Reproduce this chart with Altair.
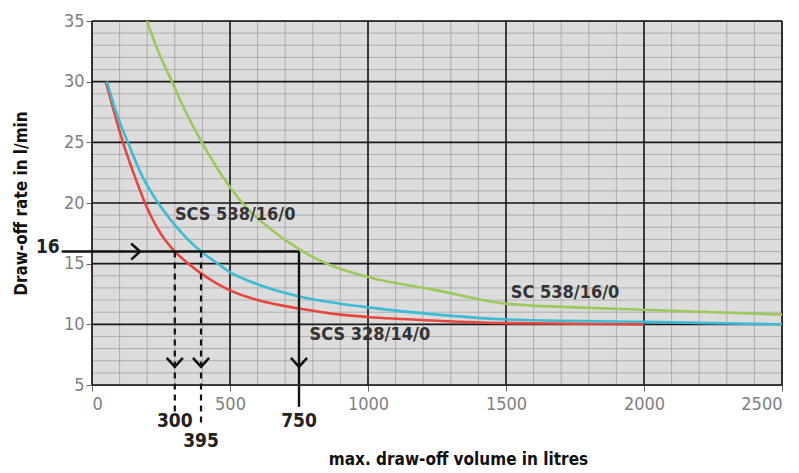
import altair as alt
import pandas as pd

# ---- data ----
red_x = [50, 80, 112, 150, 192, 240, 300, 350, 395, 450, 500, 600, 750, 900, 1000, 1250, 1500, 1750, 2000]
red_y = [30, 27.5, 25, 22.5, 20, 17.8, 16, 15, 14.2, 13.4, 12.8, 12.0, 11.3, 10.8, 10.6, 10.3, 10.1, 10.05, 10.0]

blue_x = [54, 90, 130, 180, 240, 300, 395, 450, 500, 600, 750, 900, 1000, 1250, 1500, 2000, 2500]
blue_y = [30, 27.3, 25, 22.3, 20, 18.2, 16, 15.1, 14.3, 13.3, 12.3, 11.7, 11.4, 10.8, 10.4, 10.2, 10.0]

green_x = [199, 240, 290, 340, 398, 450, 500, 561, 650, 750, 850, 1000, 1250, 1500, 1750, 2000, 2250, 2500]
green_y = [35, 32.5, 30, 27.5, 25, 23, 21.3, 19.6, 17.8, 16.2, 15.0, 13.9, 12.8, 11.7, 11.4, 11.2, 11.0, 10.8]

series_names = ["SCS 328/14/0", "SCS 538/16/0", "SC 538/16/0"]
series_colors = ["#e8453c", "#3cbcd4", "#9dc85c"]

label_text = ["SCS 538/16/0", "SCS 328/14/0", "SC 538/16/0"]
label_x = [519, 1007, 1714]
label_y = [19.0, 9.1, 12.6]

rate = 16
vol_small = [300, 395]
vol_big = 750
dashed_end = [2.4, 1.6]
solid_end = 3.2
line_start = -110
arrow_right_x = 174
arrow_down_y = 6.5

x_major = [0, 500, 1000, 1500, 2000, 2500]
y_major = [5, 10, 15, 20, 25, 30, 35]
x_minor = list(range(0, 2501, 100))
y_minor = list(range(5, 36, 1))

FONT = "DejaVu Sans Condensed, sans-serif"

xs = alt.Scale(domain=[0, 2500], nice=False, zero=False)
ys = alt.Scale(domain=[5, 35], nice=False, zero=False)

rows = []
for name, xv, yv in zip(series_names, [red_x, blue_x, green_x], [red_y, blue_y, green_y]):
    for a, b in zip(xv, yv):
        rows.append({"series": name, "x": a, "y": b})
curves = pd.DataFrame(rows)

minor_x_df = pd.DataFrame({"x": x_minor})
minor_y_df = pd.DataFrame({"y": y_minor})
major_x_df = pd.DataFrame({"x": x_major})
major_y_df = pd.DataFrame({"y": y_major})

base_axes = alt.Chart(curves).mark_line(opacity=0).encode(
    x=alt.X("x:Q", scale=xs, title="max. draw-off volume in litres",
            axis=alt.Axis(values=x_major, format="d", grid=False, domain=False, tickColor="#666", tickSize=6,
                          labelFont=FONT, labelFontSize=18, labelColor="#808080", labelPadding=4,
                          titleFont=FONT, titleFontSize=17, titleFontWeight="bold", titleColor="#111",
                          titlePadding=38, titleX=366)),
    y=alt.Y("y:Q", scale=ys, title="Draw-off rate in l/min",
            axis=alt.Axis(values=y_major, format="d", grid=False, domain=False, tickColor="#666", tickSize=6,
                          labelFont=FONT, labelFontSize=18, labelColor="#808080", labelPadding=2,
                          titleFont=FONT, titleFontSize=17, titleFontWeight="bold", titleColor="#111",
                          titlePadding=33)),
)

minor_v = alt.Chart(minor_x_df).mark_rule(color="#a2a2a2", strokeWidth=0.8).encode(x=alt.X("x:Q", scale=xs))
minor_h = alt.Chart(minor_y_df).mark_rule(color="#a2a2a2", strokeWidth=0.8).encode(y=alt.Y("y:Q", scale=ys))
major_v = alt.Chart(major_x_df).mark_rule(color="#1a1a1a", strokeWidth=1.6).encode(x=alt.X("x:Q", scale=xs))
major_h = alt.Chart(major_y_df).mark_rule(color="#1a1a1a", strokeWidth=1.6).encode(y=alt.Y("y:Q", scale=ys))

lines = alt.Chart(curves).mark_line(strokeWidth=2.6, interpolate="monotone").encode(
    x=alt.X("x:Q", scale=xs),
    y=alt.Y("y:Q", scale=ys),
    color=alt.Color("series:N", scale=alt.Scale(domain=series_names, range=series_colors), legend=None),
    order=alt.Order("x:Q"),
)

labels = alt.Chart(pd.DataFrame({"t": label_text, "x": label_x, "y": label_y})).mark_text(
    font=FONT, fontSize=18, fontWeight="bold", color="#333"
).encode(x=alt.X("x:Q", scale=xs), y=alt.Y("y:Q", scale=ys), text="t:N")

# solid guide lines
solid_df = pd.DataFrame({
    "x": [line_start, vol_big], "y": [rate, rate], "x2": [vol_big, vol_big], "y2": [rate, solid_end]
})
solid = alt.Chart(solid_df).mark_rule(color="#111", strokeWidth=2.4).encode(
    x=alt.X("x:Q", scale=xs), x2="x2:Q", y=alt.Y("y:Q", scale=ys), y2="y2:Q"
)
dashed_df = pd.DataFrame({"x": vol_small, "y": [rate, rate], "y2": dashed_end})
dashed = alt.Chart(dashed_df).mark_rule(color="#111", strokeWidth=2.2, strokeDash=[6, 5]).encode(
    x=alt.X("x:Q", scale=xs), y=alt.Y("y:Q", scale=ys), y2="y2:Q"
)

down_df = pd.DataFrame({"x": vol_small + [vol_big], "y": [arrow_down_y] * 3})
down_heads = alt.Chart(down_df).mark_point(
    shape="M-1,-1.1L0,0L1,-1.1", size=260, filled=False, color="#111", strokeWidth=2.6, opacity=1
).encode(x=alt.X("x:Q", scale=xs), y=alt.Y("y:Q", scale=ys))
right_df = pd.DataFrame({"x": [arrow_right_x], "y": [rate]})
right_head = alt.Chart(right_df).mark_point(
    shape="M-1.1,-1L0,0L-1.1,1", size=260, filled=False, color="#111", strokeWidth=2.6, opacity=1
).encode(x=alt.X("x:Q", scale=xs), y=alt.Y("y:Q", scale=ys))

# value labels
val_df = pd.DataFrame({
    "t": [str(rate), str(vol_small[0]), str(vol_small[1]), str(vol_big)],
    "x": [-117, vol_small[0], vol_small[1], vol_big],
    "y": [16.4, 2.0, 0.4, 2.0],
})
val_right = alt.Chart(val_df.iloc[:1]).mark_text(
    font=FONT, fontSize=19, fontWeight="bold", color="#222", align="right", baseline="middle"
).encode(x=alt.X("x:Q", scale=xs), y=alt.Y("y:Q", scale=ys), text="t:N")
val_center = alt.Chart(val_df.iloc[1:]).mark_text(
    font=FONT, fontSize=19, fontWeight="bold", color="#222", align="center", baseline="middle"
).encode(x=alt.X("x:Q", scale=xs), y=alt.Y("y:Q", scale=ys), text="t:N")

chart = alt.layer(
    base_axes, minor_v, minor_h, major_v, major_h, lines, labels,
    solid, dashed, down_heads, right_head, val_right, val_center
).properties(
    width=690, height=364,
    autosize=alt.AutoSizeParams(type="none"),
    padding={"left": 84, "top": 13, "right": 9, "bottom": 88},
    background="white",
).configure_view(
    fill="#dcdcdc", stroke="#555", strokeWidth=1.2
)

chart.save("out.html", embed_options={"renderer": "svg", "actions": False})
